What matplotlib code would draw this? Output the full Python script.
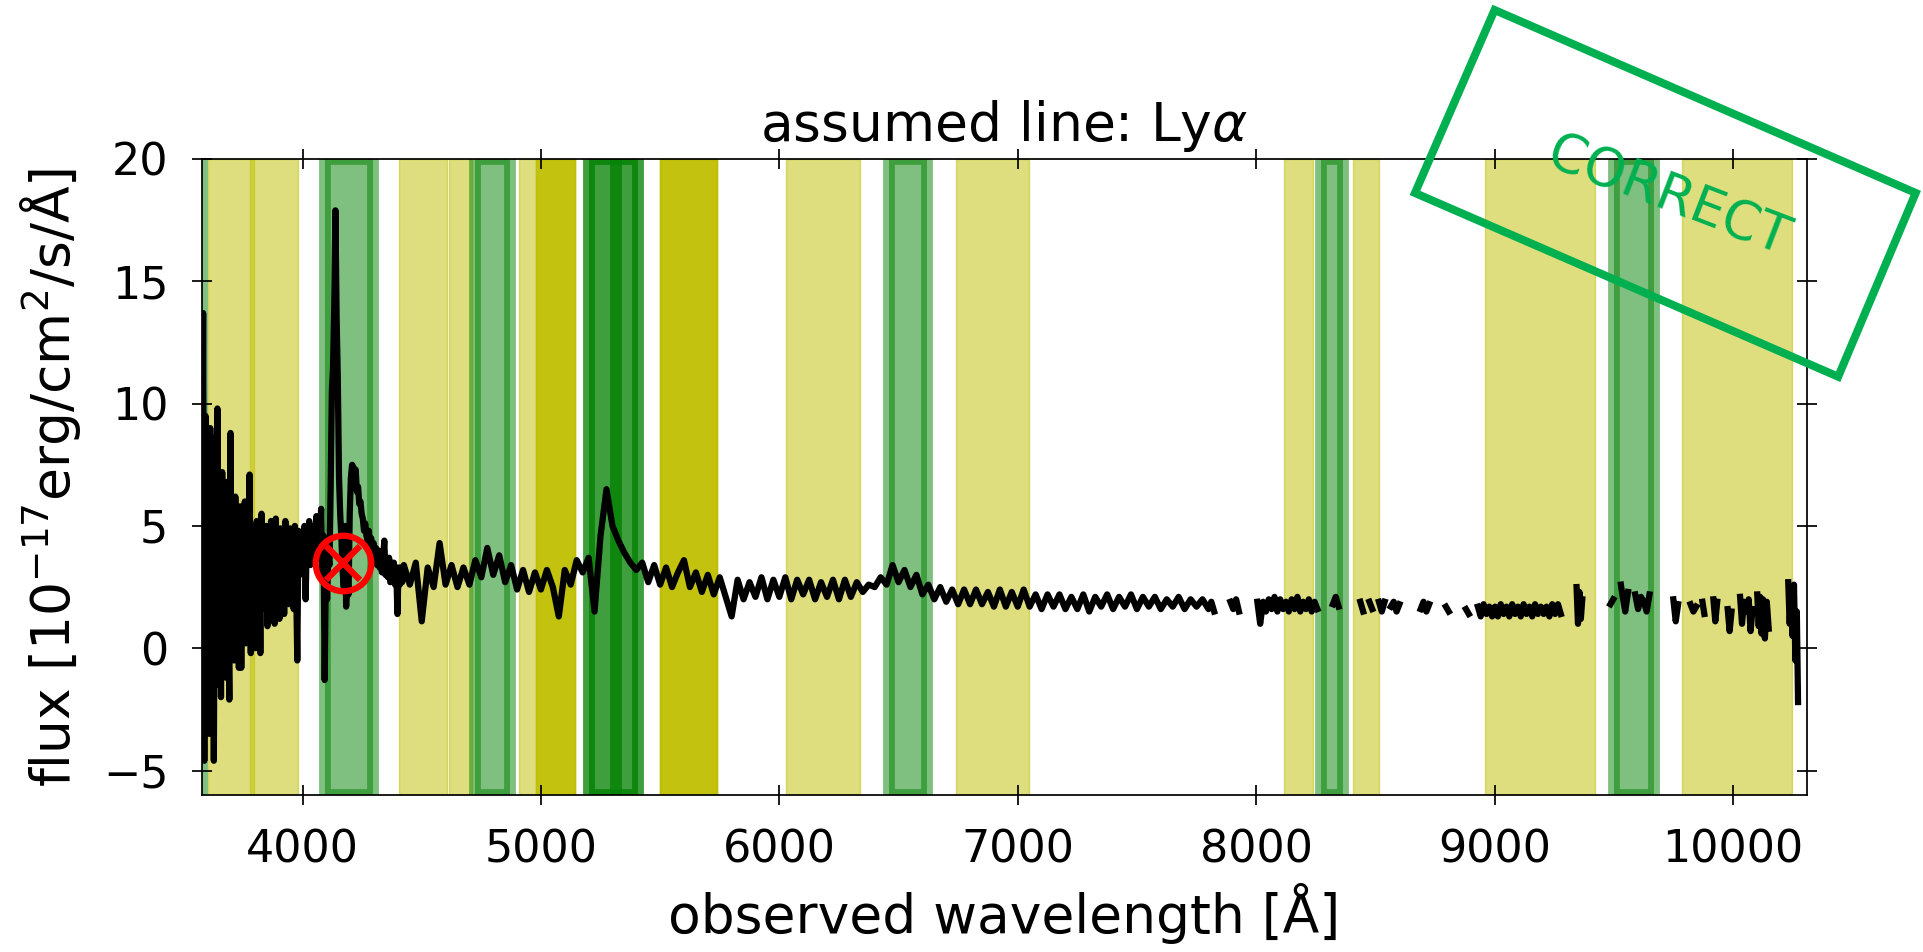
import numpy as np
import matplotlib
matplotlib.use('Agg')
import matplotlib.pyplot as plt
from matplotlib.patches import Polygon

# spectrum in pieces (start wavelength, pixel step, flux values)
blue_start, blue_step = 3578, 5
blue_flux = [2.0, 13.7, -4.6, 9.5, -1.0, 8.2, -3.5, 9.0, 0.5, 8.6, -4.6, 6.5, 1.0, 9.8, -1.5,
             6.0, -2.0, 7.2, 0.5, 5.5, -1.2, 6.8, 1.5, -2.1, 8.8, 0.0, 5.5, -0.5, 6.2, 1.2,
             4.8, -0.8, 5.8, -0.8, 4.5, 0.8, 6.0, 0.2, 4.2, 1.0, 7.1, -0.2, 5.0, 1.5, 4.6,
             0.0, 5.2, 1.8, 4.4, -0.2, 5.5, 1.6, 4.8, 2.0, 5.0, 0.9, 4.7, 1.5, 5.2, 2.2,
             4.5, 1.0, 5.3, 2.5, 4.2, 1.2, 4.9, 2.0, 4.4, 1.4, 5.2, 2.6, 4.6, 1.8, 4.9,
             2.4, 4.1, 1.6, 5.0, 2.8, -0.5, 4.8, 3.0, 4.4, 3.6]

lya_start, lya_step = 4003, 5
lya_flux = [4.0, 5.0, 2.0, 4.5, 3.6, 5.2, 3.4, 4.6, 3.8, 5.0, 3.5, 5.4, 4.0, 5.3, 4.2,
            5.7, 3.0, 4.6, -1.3, 3.5, 2.0, 3.8, 3.4, 6.5, 10.5, 11.5, 14.0, 17.9, 13.5, 11.0,
            7.0, 5.5, 4.5, 3.2, 2.5, 5.0, 1.7, 3.0, 2.2, 5.5, 7.0, 7.5, 7.4, 7.2, 7.3,
            6.4, 6.6, 5.9, 6.0, 5.5, 5.3, 4.8, 5.1, 4.6, 4.4, 4.8, 4.2, 4.5, 3.9, 4.3,
            3.6, 4.1, 3.4, 4.0, 3.3, 3.9, 3.1, 3.7, 4.4, 3.0, 3.6, 2.9, 3.7, 2.7, 3.5,
            2.8, 3.5, 2.6, 3.3, 1.4, 3.3, 2.6, 3.3, 2.7]

mid_start, mid_step = 4425, 25
mid_flux = [3.4, 2.6, 3.5, 1.1, 3.3, 2.5, 4.3, 2.6, 3.4, 2.5, 3.3, 2.6,
            3.6, 2.9, 4.1, 3.0, 3.8, 2.7, 3.4, 2.4, 3.2, 2.3, 3.1, 2.4,
            3.2, 2.5, 1.3, 3.2, 2.6, 3.6, 3.1, 3.7, 1.5, 4.6, 6.5, 5.0,
            4.4, 3.9, 3.5, 3.2, 3.5, 2.7, 3.4, 2.6, 3.3, 2.5, 3.1, 3.6,
            2.5, 3.1, 2.3, 3.0, 2.2, 2.9, 2.1, 1.3, 2.8, 2.0, 2.7, 2.1,
            2.9, 2.0, 2.8, 2.1, 2.9, 2.0, 2.8, 2.2, 2.8, 2.0, 2.7, 2.1,
            2.8, 2.0, 2.8, 2.1, 2.7, 2.3, 2.6, 2.5, 2.9, 2.6, 3.4, 2.7,
            3.2, 2.5, 3.0, 2.2, 2.6, 2.0, 2.5, 1.9, 2.4, 1.8, 2.4, 1.8,
            2.4, 1.8, 2.3, 1.7, 2.4, 1.7, 2.3, 1.7, 2.4, 1.7, 2.2, 1.6,
            2.2, 1.7, 2.2, 1.6, 2.1, 1.6, 2.2, 1.5, 2.1, 1.7, 2.2, 1.6,
            2.1, 1.7, 2.2, 1.6, 2.1, 1.7, 2.1, 1.6, 2.0, 1.7, 2.1, 1.6,
            2.0, 1.7, 2.0, 1.6]

nan = np.nan
red_wave = [7812, 7824, 7836, 7892, 7904, 7916, 7928, 7940, 8005, 8017, 8029, 8041, 8053, 8065,
            8077, 8089, 8101, 8113, 8125, 8137, 8149, 8161, 8173, 8185, 8197, 8209, 8221, 8233,
            8245, 8257, 8269, 8322, 8334, 8346, 8358, 8437, 8449, 8461, 8475, 8487, 8499, 8515,
            8527, 8539, 8551, 8565, 8577, 8589, 8601, 8613, 8690, 8702, 8714, 8726, 8738, 8796,
            8808, 8820, 8880, 8892, 8904, 8930, 8942, 8954, 8966, 8978, 8990, 9002, 9014, 9026,
            9038, 9050, 9062, 9074, 9086, 9098, 9110, 9122, 9134, 9146, 9158, 9170, 9182, 9194,
            9206, 9218, 9230, 9242, 9254, 9266, 9278, 9290, 9344, 9350, 9356, 9362, 9368, 9374,
            9486, 9498, 9510, 9530, 9536, 9548, 9560, 9572, 9590, 9602, 9614, 9626, 9638, 9650,
            9662, 9750, 9760, 9770, 9780, 9822, 9834, 9846, 9858, 9872, 9880, 9888, 9918, 9926,
            9934, 9942, 9978, 9986, 9994, 10002, 10030, 10038, 10046, 10058, 10066, 10074, 10082,
            10094, 10102, 10108, 10114, 10120, 10126, 10134, 10142, 10150, 10158, 10232, 10238,
            10244, 10250, 10256, 10262, 10268, 10273]
red_flux = [1.9, 1.5, nan, 1.9, 1.6, 2.0, 1.5, nan, 1.9, 1.0, 1.9, 1.5, 2.0, 1.6,
            2.1, 1.5, 2.0, 1.6, 1.9, 1.5, 2.0, 1.6, 2.1, 1.5, 1.9, 1.6, 2.0, 1.5,
            1.9, 1.6, nan, 1.8, 2.1, 1.7, nan, 1.9, 1.5, nan, 1.9, 1.6, nan, 1.9,
            1.5, 1.9, nan, 1.7, 1.9, 1.5, 1.8, nan, 1.6, 1.9, 1.5, 1.8, nan, 1.7,
            1.5, nan, 1.6, 1.4, nan, 1.7, 1.3, 1.8, 1.4, 1.7, 1.3, 1.7, 1.3, 1.8,
            1.4, 1.7, 1.3, 1.8, 1.4, 1.7, 1.3, 1.8, 1.4, 1.7, 1.3, 1.8, 1.4, 1.7,
            1.4, 1.7, 1.3, 1.8, 1.4, 1.8, 1.4, nan, 2.5, 1.0, 2.3, 1.2, 2.0, nan,
            1.8, 2.0, nan, 2.6, 2.2, 1.5, 2.3, nan, 2.2, 1.6, 2.1, 1.9, 1.5, 2.2,
            nan, 2.0, 1.1, 1.8, nan, 1.8, 1.5, 1.7, nan, 1.9, 1.4, nan, 2.0, 1.1,
            1.9, nan, 1.6, 0.7, 1.5, nan, 2.1, 1.0, 1.9, 1.5, 2.0, 0.7, 1.6,
            nan, 2.2, 0.9, 2.1, 0.6, 2.0, 0.4, 1.9, 0.8, nan, 2.7, 1.0,
            2.5, 0.5, 2.6, -0.5, 1.5, -2.2]

# line windows (observed wavelength ranges)
yellow_bands = [(3603, 3797), (3779, 3981), (4405, 4604), (4615, 4710), (4908, 5142),
                (4979, 5142), (4979, 5142), (4979, 5142), (5499, 5737), (5499, 5737),
                (5499, 5737), (5499, 5737), (6030, 6338), (6741, 7048), (8118, 8239),
                (8405, 8517), (8961, 9422), (9788, 10249)]
green_bands = [(3420, 3578), (4093, 4296), (4723, 4869), (5201, 5409), (5201, 5315),
               (5315, 5409), (6461, 6618), (8271, 8366), (9499, 9667)]

line_wave, line_flux = 4169, 3.5

wave = np.concatenate([blue_start + blue_step * np.arange(len(blue_flux)),
                       lya_start + lya_step * np.arange(len(lya_flux)),
                       mid_start + mid_step * np.arange(len(mid_flux)),
                       np.array(red_wave, dtype=float)])
flux = np.concatenate([blue_flux, lya_flux, mid_flux, red_flux])

fig = plt.figure(figsize=(19.23, 9.52), dpi=100)
ax = fig.add_axes([0.1050, 0.1649, 0.8346, 0.6681])

for lo, hi in yellow_bands:
    ax.axvspan(lo, hi, color='y', alpha=0.5, lw=1)
for lo, hi in green_bands:
    ax.axvspan(lo, hi, color='g', alpha=0.5, lw=8.5)

ax.plot(wave, flux, color='k', lw=4.5)
ax.plot(line_wave, line_flux, marker='o', ms=40, mfc='none', mec='r', mew=4.5, zorder=5)
ax.plot(line_wave, line_flux, marker='x', ms=24, mec='r', mew=4.5, zorder=5)

ax.set_xlim(3578, 10310)
ax.set_ylim(-6, 20)
ax.set_xticks([4000, 5000, 6000, 7000, 8000, 9000, 10000])
ax.set_yticks([-5, 0, 5, 10, 15, 20])
ax.tick_params(direction='inout', length=14.4, width=1.25, top=True, right=True,
               labelsize=32, pad=17)
for sp in ax.spines.values():
    sp.set_linewidth(1.25)

ax.set_title(r'assumed line: Ly$\alpha$', fontsize=38.5, y=1.0, pad=13)
ax.set_xlabel('observed wavelength [Å]', fontsize=38.5)
ax.set_ylabel(r'flux [$10^{-17}$erg/cm$^2$/s/Å]', fontsize=38.5)
ax.xaxis.set_label_coords(0.5, -0.217)
ax.xaxis.label.set_verticalalignment('baseline')
ax.yaxis.set_label_coords(-0.0822, 0.5)
ax.yaxis.label.set_verticalalignment('baseline')

# the green "CORRECT" stamp on top
stamp = [(0.7772, 0.9895), (0.9962, 0.7973), (0.9559, 0.6043), (0.7358, 0.7973)]
fig.add_artist(Polygon(stamp, closed=True, fill=False, ec='#00b050', lw=5.8,
                       transform=fig.transFigure))
fig.text(0.8674, 0.7931, 'CORRECT', rotation=-21, color='#00b050', fontsize=38,
         ha='center', va='center', rotation_mode='anchor')

fig.savefig('out.png', dpi=100)
